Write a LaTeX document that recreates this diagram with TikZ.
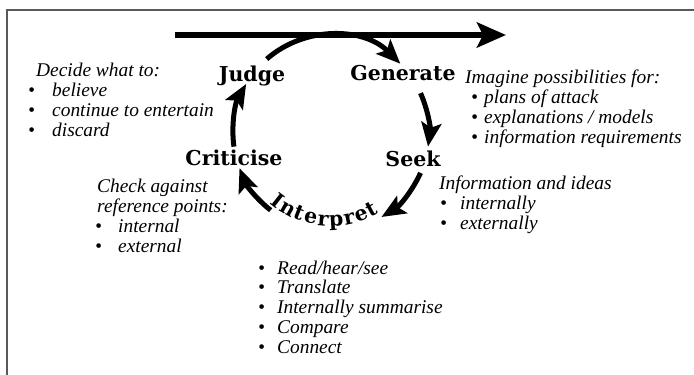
\documentclass[tikz,border=0pt]{standalone}
\usepackage{fontspec}
\setmainfont{Liberation Serif}
\newfontfamily\stagefont{DejaVu Serif}
\usetikzlibrary{positioning,arrows.meta,decorations.text}

% indent, bullet, gap up to the item text
\newcommand{\bul}[2]{\hspace*{#1}\makebox[#2][l]{\textbullet}}

\begin{document}
\begin{tikzpicture}[
    x=1pt, y=1pt,
    >=Stealth,
    stage/.style={font=\stagefont\bfseries\fontsize{20.5}{20.5}\selectfont, inner sep=0pt, anchor=base},
    notes/.style={font=\itshape\fontsize{19.4}{19.7}\selectfont, align=left, inner sep=0pt, anchor=base west},
    cycle/.style={line width=5pt, -{Stealth[length=24pt,width=20pt,inset=5pt]}},
    flow/.style={line width=6pt, -{Stealth[length=29pt,width=25pt,inset=6pt]}}
]
\useasboundingbox (0,0) rectangle (694,-375);

% Frame
\draw[line width=2pt, black!65] (7,-375) -- (7,-10) -- (694,-10);

% Main flow
\coordinate (flowstart) at (175,-35);
\coordinate (flowend) at (506,-35);
\draw[flow] (flowstart) -- (flowend);

% Stages
\coordinate (hub) at (331,-133);
\node[stage] (judge) at (252,-81) {Judge};
\node[stage] (generate) at (403,-80) {Generate};
\node[stage] (seek) at (413,-166) {Seek};
\node[stage] (criticise) at (234,-165) {Criticise};

% Cycle arcs
\draw[cycle] ([shift={(131:98)}]hub) arc[start angle=131, end angle=45, radius=98];
\draw[cycle] ([shift={(24:98)}]hub) arc[start angle=24, end angle=-8, radius=98];
\draw[cycle] ([shift={(-24:98)}]hub) arc[start angle=-24, end angle=-59, radius=98];
\draw[cycle] ([shift={(232:98)}]hub) arc[start angle=232, end angle=201, radius=98];
\draw[cycle] ([shift={(188:98)}]hub) arc[start angle=188, end angle=150, radius=98];

% Interpret, spread along the bottom of the cycle
\path[decorate, decoration={text along path, text align={fit to path},
    text={|\stagefont\bfseries\fontsize{20.5}{20.5}\selectfont|Interpret}}]
    ([shift={(-131:93)}]hub) arc[start angle=-131, end angle=-59, radius=93];

% Notes (anchored on the baseline of their last line)
\node[notes] (decide) at (28,-136) {\hspace*{8pt}Decide what to:\\
    \bul{0pt}{24pt}believe\\
    \bul{0pt}{24pt}continue to entertain\\
    \bul{0pt}{24pt}discard};
\node[notes] (imagine) at (465,-143) {Imagine possibilities for:\\
    \bul{6pt}{13pt}plans of attack\\
    \bul{6pt}{13pt}explanations / models\\
    \bul{6pt}{13pt}information requirements};
\node[notes] (info) at (439,-229) {Information and ideas\\
    \bul{1pt}{20pt}internally\\
    \bul{1pt}{20pt}externally};
\node[notes] (check) at (95,-252) {\hspace*{2pt}Check against\\
    \hspace*{2pt}reference points:\\
    \bul{0pt}{23pt}internal\\
    \bul{0pt}{23pt}external};
\node[notes] (read) at (258,-353) {\bul{0pt}{19pt}Read/hear/see\\
    \bul{0pt}{19pt}Translate\\
    \bul{0pt}{19pt}Internally summarise\\
    \bul{0pt}{19pt}Compare\\
    \bul{0pt}{19pt}Connect};
\end{tikzpicture}
\end{document}
